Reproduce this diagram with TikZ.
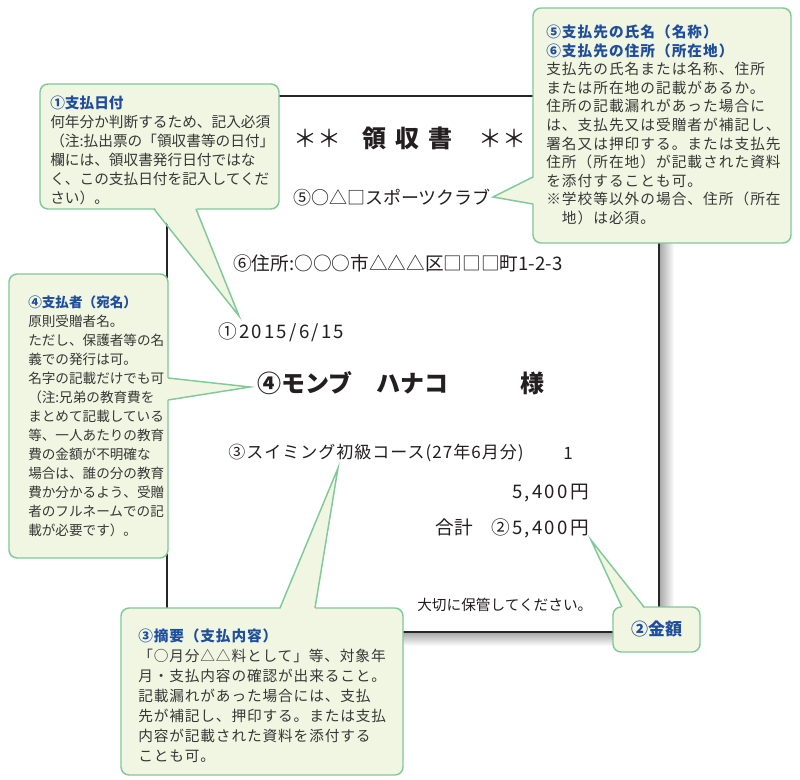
\documentclass[tikz,border=0pt]{standalone}
\usepackage{fontspec}
\setmainfont{Noto Sans CJK JP}
\newfontfamily\jpA[LetterSpace=7]{Noto Sans CJK JP}
\newfontfamily\jpB[LetterSpace=0]{Noto Sans CJK JP}
\newfontfamily\jpC[LetterSpace=0]{Noto Sans CJK JP}
\newfontfamily\jpD[LetterSpace=6]{Noto Sans CJK JP}
\newfontfamily\jpE[LetterSpace=12]{Noto Sans CJK JP}
\newfontfamily\jpF[LetterSpace=6]{Noto Sans CJK JP}
\usetikzlibrary{calc}
\usetikzlibrary{positioning}
\definecolor{notegreen}{RGB}{128,201,152}
\definecolor{notefill}{RGB}{241,246,226}
\definecolor{titleblue}{RGB}{31,78,156}
\definecolor{bodygray}{RGB}{55,55,55}
\definecolor{inkgray}{RGB}{35,31,32}
\tikzstyle{sheet} = [rectangle, draw=black!85, fill=white, line width=0.8pt,
    inner sep=0pt, outer sep=0pt]
\tikzstyle{entry} = [text=inkgray, inner sep=0pt]
\tikzstyle{note} = [rectangle, draw=notegreen, fill=notefill, line width=1.1pt,
    rounded corners=6pt, inner sep=0pt, outer sep=0pt]
\tikzstyle{notetext} = [align=left, text=bodygray, inner sep=0pt]
\tikzstyle{pointer} = [draw=notegreen, line width=1.1pt]
\newcommand{\ttl}[1]{\textcolor{titleblue}{\bfseries #1}}

\begin{document}
\begin{tikzpicture}[x=0.75pt, y=-0.75pt]
    \useasboundingbox (0,0) rectangle (800,780);
    \fill[white] (0,0) rectangle (800,780);

    % Receipt sheet
    \shade[left color=black!35, right color=white] (659,100) rectangle (674,646);
    \shade[top color=black!35, bottom color=white] (172,632) rectangle (674,646);
    \node [sheet, anchor=north west, minimum width=369pt, minimum height=402pt] (sheet) at (167,96) {};

    \node [entry, anchor=west, font=\fontsize{18}{18}\selectfont] (rtitle) at (293,138)
        {＊＊\hspace{15.75pt}\textbf{領}\hspace{6.75pt}\textbf{収}\hspace{6.75pt}\textbf{書}\hspace{19.5pt}＊＊};
    \node [entry, anchor=west, font=\fontsize{13.5}{14}\selectfont] (rclub) at (293,198) {⑤○△□スポーツクラブ};
    \node [entry, anchor=west, font=\fontsize{14}{14}\selectfont] (raddr) at (233,263) {⑥住所:○○○市△△△区□□□町1-2-3};
    \node [entry, anchor=west, font=\jpE\fontsize{14}{14}\selectfont] (rdate) at (218,332) {①2015/6/15};
    \node [entry, anchor=west, font=\bfseries\fontsize{18}{18}\selectfont] (rname) at (257,383) {④モンブ　ハナコ　　　様};
    \node [entry, anchor=west, font=\jpF\fontsize{12.75}{13}\selectfont] (ritem) at (228,453) {③スイミング初級コース(27年6月分)};
    \node [entry, anchor=east, font=\fontsize{12.75}{13}\selectfont] (rqty) at (573,453) {1};
    \node [entry, anchor=east, font=\jpE\fontsize{14}{14}\selectfont] (rsub) at (589,493) {5,400円};
    \node [entry, anchor=east, font=\fontsize{14}{14}\selectfont] (rtotal) at (589,528) {合計　{\jpE ②5,400円}};
    \node [entry, anchor=west, font=\fontsize{11}{11}\selectfont] (rkeep) at (417,605) {大切に保管してください。};

    % Pointer tips
    \coordinate (tip56) at (493,197);
    \coordinate (tip1) at (239,316);
    \coordinate (tip4) at (250,387);
    \coordinate (tip3) at (338,468);
    \coordinate (tip2) at (591,540);

    % Callout 5/6
    \node [note, anchor=north west, minimum width=193.5pt, minimum height=176.25pt] (note56) at (533,8) {};
    \fill [notefill] ($(note56.north west)+(2,169)$) -- (tip56) -- ($(note56.north west)+(2,196)$) -- cycle;
    \path [pointer] ($(note56.north west)+(0,169)$) -- (tip56) -- ($(note56.north west)+(0,196)$);
    \node [notetext, font=\jpA\fontsize{11}{13.95}\selectfont, below right=12.5pt and 9.75pt of note56.north west] (text56)
        {\ttl{⑤支払先の氏名（名称）}\\
         \ttl{⑥支払先の住所（所在地）}\\
         支払先の氏名または名称、住所\\
         または所在地の記載があるか。\\
         住所の記載漏れがあった場合に\\
         は、支払先又は受贈者が補記し、\\
         署名又は押印する。または支払先\\
         住所（所在地）が記載された資料\\
         を添付することも可。\\
         ※学校等以外の場合、住所（所在\\
         　地）は必須。};

    % Callout 1
    \node [note, anchor=north west, minimum width=179.25pt, minimum height=93.75pt] (note1) at (40,84) {};
    \fill [notefill] ($(note1.south west)+(114,-2)$) -- (tip1) -- ($(note1.south west)+(156,-2)$) -- cycle;
    \path [pointer] ($(note1.south west)+(114,0)$) -- (tip1) -- ($(note1.south west)+(156,0)$);
    \node [notetext, font=\jpB\fontsize{11}{14.25}\selectfont, below right=8.4pt and 7.5pt of note1.north west] (text1)
        {\ttl{①支払日付}\\
         何年分か判断するため、記入必須\\
         （注:払出票の「領収書等の日付」\\
         欄には、領収書発行日付ではな\\
         く、この支払日付を記入してくだ\\
         さい）。};

    % Callout 4
    \node [note, anchor=north west, minimum width=119.25pt, minimum height=213pt] (note4) at (9,274) {};
    \fill [notefill] ($(note4.north east)+(-2,104)$) -- (tip4) -- ($(note4.north east)+(-2,126)$) -- cycle;
    \path [pointer] ($(note4.north east)+(0,104)$) -- (tip4) -- ($(note4.north east)+(0,126)$);
    \node [notetext, font=\jpC\fontsize{10.2}{14.3}\selectfont, below right=15.8pt and 14.25pt of note4.north west] (text4)
        {\ttl{④支払者（宛名）}\\
         原則受贈者名。\\
         ただし、保護者等の名\\
         義での発行は可。\\
         名字の記載だけでも可\\
         （注:兄弟の教育費を\\
         まとめて記載している\\
         等、一人あたりの教育\\
         費の金額が不明確な\\
         場合は、誰の分の教育\\
         費か分かるよう、受贈\\
         者のフルネームでの記\\
         載が必要です）。};

    % Callout 3
    \node [note, anchor=north west, minimum width=211.5pt, minimum height=125.25pt] (note3) at (121,608) {};
    \fill [notefill] ($(note3.north west)+(159,2)$) -- (tip3) -- ($(note3.north west)+(194,2)$) -- cycle;
    \path [pointer] ($(note3.north west)+(159,0)$) -- (tip3) -- ($(note3.north west)+(194,0)$);
    \node [notetext, font=\jpD\fontsize{11}{15}\selectfont, below right=15.2pt and 12.75pt of note3.north west] (text3)
        {\ttl{③摘要（支払内容）}\\
         「○月分△△料として」等、対象年\\
         月・支払内容の確認が出来ること。\\
         記載漏れがあった場合には、支払\\
         先が補記し、押印する。または支払\\
         内容が記載された資料を添付する\\
         ことも可。};

    % Callout 2
    \node [note, anchor=north west, minimum width=65.25pt, minimum height=33.75pt,
        font=\bfseries\fontsize{12.75}{13}\selectfont, text=titleblue] (note2) at (613,607) {②金額};
    \fill [notefill] ($(note2.north west)+(9,2)$) -- (tip2) -- ($(note2.north west)+(31,2)$) -- cycle;
    \path [pointer] ($(note2.north west)+(9,0)$) -- (tip2) -- ($(note2.north west)+(31,0)$);
\end{tikzpicture}
\end{document}
